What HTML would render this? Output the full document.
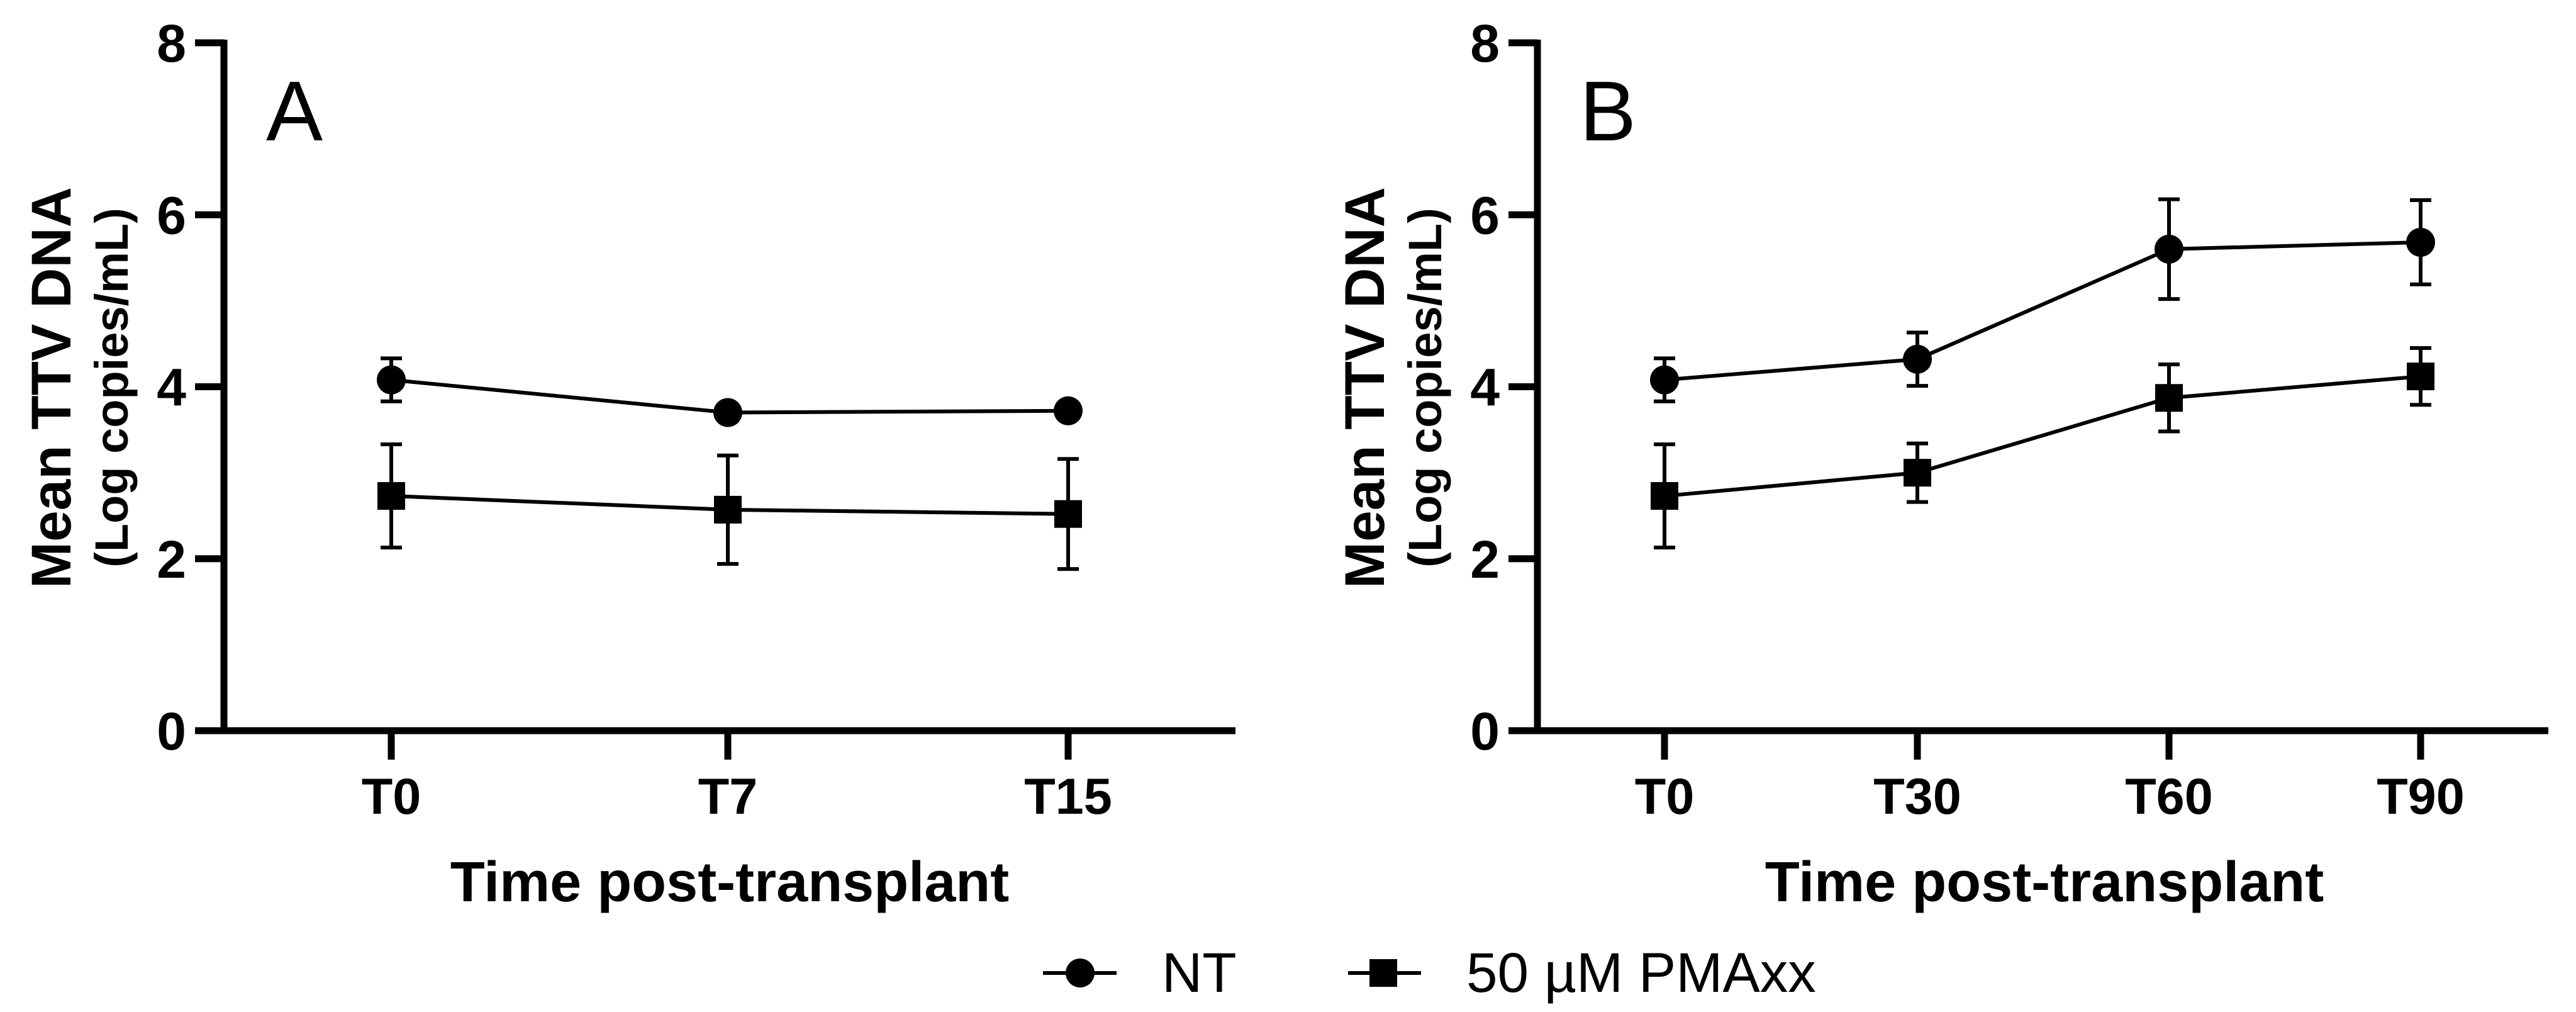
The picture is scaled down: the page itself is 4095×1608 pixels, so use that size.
<!DOCTYPE html>
<html><head><meta charset="utf-8"><style>
html,body{margin:0;padding:0;background:#fff;}
svg{display:block;font-family:"Liberation Sans",Arial,sans-serif;}
</style></head><body>
<svg id="chart" width="4095" height="1608" viewBox="0 0 4095 1608"></svg>
<script>
const catsA = ["T0","T7","T15"];
const ntA = [4.08, 3.70, 3.72];
const ntAErr = [0.25, 0, 0];
const pmaA = [2.73, 2.57, 2.52];
const pmaAErr = [0.60, 0.63, 0.64];
const catsB = ["T0","T30","T60","T90"];
const ntB = [4.08, 4.32, 5.60, 5.68];
const ntBErr = [0.25, 0.31, 0.58, 0.49];
const pmaB = [2.73, 3.00, 3.87, 4.12];
const pmaBErr = [0.60, 0.34, 0.39, 0.33];
const yTicks = [0, 2, 4, 6, 8];

const NS = "http://www.w3.org/2000/svg";
const svg = document.getElementById("chart");
function el(tag, attrs, parent, text) {
  const e = document.createElementNS(NS, tag);
  for (const k in attrs) e.setAttribute(k, attrs[k]);
  if (text !== undefined) e.textContent = text;
  (parent || svg).appendChild(e);
  return e;
}

function panel(cfg) {
  const g = el("g", {});
  
  
  const x0 = cfg.axisX, xEnd = cfg.axisEnd, yBot = 1161, yTop = 68;
  const yS = v => yBot - (v / 8) * (yBot - yTop);
  const xS = i => cfg.tickX[i];
  // axes
  const ya = el("line", {x1: x0, y1: yTop - 5, x2: x0, y2: yBot + 5, stroke: "#000", "stroke-width": 11}, g);
  
  
  const xa = el("line", {x1: x0 - 5, y1: yBot, x2: xEnd, y2: yBot, stroke: "#000", "stroke-width": 11}, g);
  
  
  yTicks.forEach(v => {
    const t = el("line", {x1: x0 - 46, y1: yS(v), x2: x0, y2: yS(v), stroke: "#000", "stroke-width": 11}, g);
    
    
    const l = el("text", {x: x0 - 60, y: yS(v) + 30, "text-anchor": "end", "font-size": 84, "font-weight": "bold"}, g, String(v));
    
    
  });
  cfg.cats.forEach((c, i) => {
    const t = el("line", {x1: xS(i), y1: yBot, x2: xS(i), y2: 1207, stroke: "#000", "stroke-width": 11}, g);
    
    
    const l = el("text", {x: xS(i), y: 1293, "text-anchor": "middle", "font-size": 81, "font-weight": "bold"}, g, c);
    
    
  });
  const xt = el("text", {x: cfg.titleX, y: 1432, "text-anchor": "middle", "font-size": 90, "font-weight": "bold"}, g, "Time post-transplant");
  
  
  const yt = el("text", {transform: `translate(${x0 - 244},616) rotate(-90)`, "text-anchor": "middle", "font-size": 89, "font-weight": "bold"}, g, "Mean TTV DNA");
  
  
  const ys = el("text", {transform: `translate(${x0 - 153},616) rotate(-90)`, "text-anchor": "middle", "font-size": 74, "font-weight": "bold"}, g, "(Log copies/mL)");
  
  
  const pl = el("text", {x: cfg.letterX, y: 223, "font-size": 135}, g, cfg.letter);
  
  

  function series(vals, errs, shape, name) {
    const sg = el("g", {}, g);
    
    
    const pts = vals.map((v, i) => xS(i) + "," + yS(v)).join(" ");
    const pline = el("polyline", {points: pts, fill: "none", stroke: "#000", "stroke-width": 6}, sg);
    
    
    vals.forEach((v, i) => {
      const x = xS(i);
      if (errs[i] > 0) {
        const hi = yS(v + errs[i]), lo = yS(v - errs[i]);
        const eb = el("path", {d: `M${x},${hi}V${lo}M${x - 17},${hi}H${x + 17}M${x - 17},${lo}H${x + 17}`, stroke: "#000", "stroke-width": 6, fill: "none"}, sg);
        
        
      }
      let m;
      if (shape === "circle") m = el("circle", {cx: x, cy: yS(v), r: 23, fill: "#000"}, sg);
      else m = el("rect", {x: x - 22, y: yS(v) - 22, width: 44, height: 44, fill: "#000"}, sg);
      
      
    });
  }
  series(cfg.nt, cfg.ntErr, "circle", "nt-series");
  series(cfg.pma, cfg.pmaErr, "square", "pmaxx-series");
}

panel({name: "panel-a", axisX: 356, axisEnd: 1964, tickX: [622, 1157, 1698], cats: catsA, titleX: 1160, letter: "A", letterX: 423, nt: ntA, ntErr: ntAErr, pma: pmaA, pmaErr: pmaAErr});
panel({name: "panel-b", axisX: 2444, axisEnd: 4051, tickX: [2646, 3048, 3448, 3848], cats: catsB, titleX: 3250, letter: "B", letterX: 2511, nt: ntB, ntErr: ntBErr, pma: pmaB, pmaErr: pmaBErr});

// legend
const lg = el("g", {});


const l1 = el("g", {}, lg);


el("line", {x1: 1658, y1: 1546, x2: 1775, y2: 1546, stroke: "#000", "stroke-width": 6}, l1);
el("circle", {cx: 1717, cy: 1546, r: 23, fill: "#000"}, l1);
el("text", {x: 1847, y: 1576, "font-size": 89}, l1, "NT");
const l2 = el("g", {}, lg);


el("line", {x1: 2143, y1: 1546, x2: 2259, y2: 1546, stroke: "#000", "stroke-width": 6}, l2);
el("rect", {x: 2177, y: 1524, width: 44, height: 44, fill: "#000"}, l2);
el("text", {x: 2331, y: 1576, "font-size": 89}, l2, "50 µM PMAxx");
</script>
</body></html>
